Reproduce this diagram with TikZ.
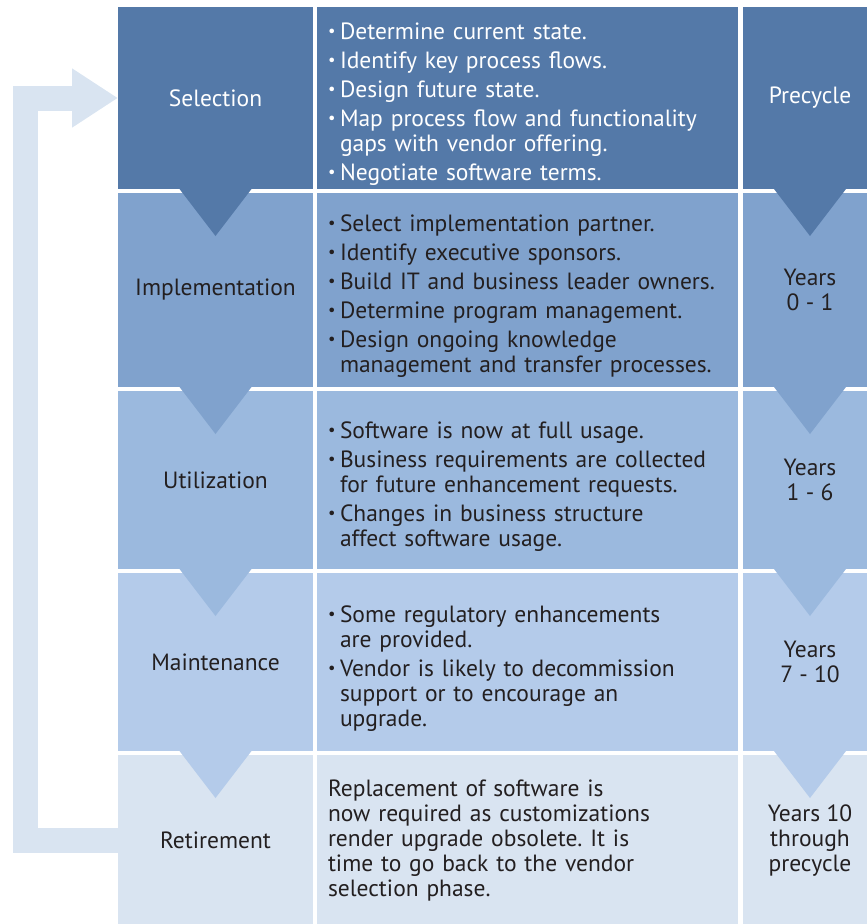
\documentclass[tikz,border=0pt]{standalone}
\usepackage{fontspec}
\setmainfont{PT Sans}
\usepackage{tikz}
\usetikzlibrary{arrows.meta,positioning}

\definecolor{selblue}{HTML}{5479A8}
\definecolor{impblue}{HTML}{80A2CD}
\definecolor{utiblue}{HTML}{9BB9DE}
\definecolor{mntblue}{HTML}{B4CBEA}
\definecolor{retblue}{HTML}{D9E4F1}
\definecolor{ink}{HTML}{231F20}

\newcommand{\fs}{\fontsize{23.5}{25}\selectfont\frenchspacing}
% bullet line with hanging indent
\newcommand{\bul}[1]{\par\hangindent=12pt\hangafter=1\noindent\makebox[12pt][l]{\raisebox{.12em}{\scalebox{.7}{\textbullet}}}#1\par}
% downward notch under a cell
\newcommand{\chev}[2]{\fill[#2] ([xshift=-36pt]#1.south) -- ([xshift=36pt]#1.south) -- ([yshift=-47pt]#1.south) -- cycle;}

\begin{document}
\begin{tikzpicture}[x=1pt, y=-1pt,
    cell/.style={rectangle, inner sep=0pt, outer sep=0pt, align=center, font=\fs, text=ink},
    stage/.style={cell, minimum width=195pt},
    note/.style={cell, minimum width=421pt, text width=399pt, inner xsep=11pt, align=left,
                 execute at begin node={\setlength{\parskip}{4pt}}},
    span/.style={cell, minimum width=134pt},
    backarrow/.style={draw=retblue, line width=25pt, -{Triangle[length=46pt 0 0, width=56pt 0 0]}},
]
\useasboundingbox (0,0) rectangle (867,924);

% stage column
\node[stage, fill=selblue, text=white, minimum height=182pt] (sel) at (215.5,98) {Selection};
\node[stage, fill=impblue, minimum height=194pt] (imp) at (215.5,290) {Implementation};
\node[stage, fill=utiblue, minimum height=178pt] (uti) at (215.5,480) {Utilization};
\node[stage, fill=mntblue, minimum height=178pt] (mnt) at (215.5,662) {Maintenance};
\node[stage, fill=retblue, minimum height=171pt] (ret) at (215.5,840.5) {Retirement};

% activities column
\node[note, fill=selblue, text=white, minimum height=182pt] (selnote) at (527.5,98) {%
  \bul{Determine current state.}
  \bul{Identify key process flows.}
  \bul{Design future state.}
  \bul{Map process flow and functionality\newline gaps with vendor offering.}
  \bul{Negotiate software terms.}};
\node[note, fill=impblue, minimum height=194pt] (impnote) at (527.5,290) {%
  \bul{Select implementation partner.}
  \bul{Identify executive sponsors.}
  \bul{Build IT and business leader owners.}
  \bul{Determine program management.}
  \bul{Design ongoing knowledge\newline management and transfer processes.}};
\node[note, fill=utiblue, minimum height=178pt] (utinote) at (527.5,480) {%
  \bul{Software is now at full usage.}
  \bul{Business requirements are collected\newline for future enhancement requests.}
  \bul{Changes in business structure\newline affect software usage.}};
\node[note, fill=mntblue, minimum height=178pt] (mntnote) at (527.5,662) {%
  \bul{Some regulatory enhancements\newline are provided.}
  \bul{Vendor is likely to decommission\newline support or to encourage an\newline upgrade.}};
\node[note, fill=retblue, minimum height=171pt] (retnote) at (527.5,840.5) {%
  Replacement of software is\newline now required as customizations\newline render upgrade obsolete. It is\newline time to go back to the vendor\newline selection phase.};

% timing column
\node[span, fill=selblue, text=white, minimum height=182pt] (selyrs) at (810,98) {Precycle};
\node[span, fill=impblue, minimum height=194pt] (impyrs) at (810,290) {Years\\0 - 1};
\node[span, fill=utiblue, minimum height=178pt] (utiyrs) at (810,480) {Years\\1 - 6};
\node[span, fill=mntblue, minimum height=178pt] (mntyrs) at (810,662) {Years\\7 - 10};
\node[span, fill=retblue, minimum height=171pt] (retyrs) at (810,840.5) {Years 10\\through\\precycle};

% notches
\chev{sel}{selblue}
\chev{imp}{impblue}
\chev{uti}{utiblue}
\chev{mnt}{mntblue}
\chev{selyrs}{selblue}
\chev{impyrs}{impblue}
\chev{utiyrs}{utiblue}
\chev{mntyrs}{mntblue}

% back to selection
\draw[backarrow] (ret.west) -- ++(-92.5,0) |- (sel.west);
\end{tikzpicture}
\end{document}
